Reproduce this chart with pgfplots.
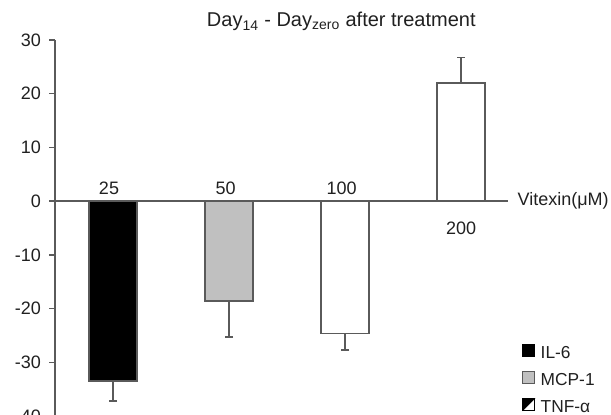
\documentclass[border=0pt]{standalone}
\usepackage{pgfplots}
\pgfplotsset{compat=1.18}
\usepackage{fontspec}
\setmainfont{Liberation Sans}
\definecolor{axgray}{HTML}{5A5A5A}
\definecolor{bargray}{HTML}{C0C0C0}
\definecolor{txt}{HTML}{202020}
\begin{document}
\begin{tikzpicture}
\begin{axis}[
  scale only axis, width=339.75pt, height=282pt,
  xmin=0.5, xmax=4.405, ymin=-40, ymax=30,
  axis y line=left, axis x line=middle,
  axis line style={-, draw=axgray, line width=1.1pt},
  every inner x axis line/.append style={-},
  every outer y axis line/.append style={-},
  hide obscured x ticks=false, hide obscured y ticks=false,
  xtick=\empty, ytick={-40,-30,...,30},
  tick align=outside, major tick length=4.5pt,
  tick style={draw=axgray, line width=1pt},
  yticklabel style={font=\fontsize{13.5}{16}\selectfont, text=txt, xshift=-2.5pt},
  /pgf/number format/assume math mode=true,
  clip=false,
  legend style={at={(1.031,0.192)}, anchor=north west, draw=none, fill=none,
    font=\fontsize{13}{15}\selectfont, text=txt, row sep=6.6pt, column sep=4pt,
    inner sep=0pt, nodes={inner sep=0pt, text height=9.5pt, text depth=3pt}},
  legend cell align=left,
]
\addplot[ybar, bar width=36pt, bar shift=0pt, fill=black, draw=axgray, line width=1pt, forget plot,
  error bars/.cd, y dir=minus, y explicit,
  error bar style={draw=axgray, line width=1pt},
  error mark options={rotate=90, mark size=3pt, draw=axgray, line width=1pt}]
  coordinates {(1,-33.5) +- (0,3.7)};
\addplot[ybar, bar width=36pt, bar shift=0pt, fill=bargray, draw=axgray, line width=1pt, forget plot,
  error bars/.cd, y dir=minus, y explicit,
  error bar style={draw=axgray, line width=1pt},
  error mark options={rotate=90, mark size=3pt, draw=axgray, line width=1pt}]
  coordinates {(2,-18.6) +- (0,6.7)};
\addplot[ybar, bar width=36pt, bar shift=0pt, fill=white, draw=axgray, line width=1pt, forget plot,
  error bars/.cd, y dir=minus, y explicit,
  error bar style={draw=axgray, line width=1pt},
  error mark options={rotate=90, mark size=3pt, draw=axgray, line width=1pt}]
  coordinates {(3,-24.7) +- (0,3.0)};
\addplot[ybar, bar width=36pt, bar shift=0pt, fill=white, draw=axgray, line width=1pt, forget plot,
  error bars/.cd, y dir=plus, y explicit,
  error bar style={draw=axgray, line width=1pt},
  error mark options={rotate=90, mark size=3pt, draw=axgray, line width=1pt}]
  coordinates {(4,22.0) +- (0,4.8)};
\addlegendimage{legend image code/.code={\draw[black, fill=black, line width=0.6pt] (0pt,-2pt) rectangle (9pt,7pt);}}
\addlegendentry{IL-6}
\addlegendimage{legend image code/.code={\draw[axgray, fill=bargray, line width=0.8pt] (0pt,-2pt) rectangle (9pt,7pt);}}
\addlegendentry{MCP-1}
\addlegendimage{legend image code/.code={\draw[black, fill=white, line width=0.8pt] (0pt,-2pt) rectangle (9pt,7pt); \fill[black] (0pt,-2pt) -- (0pt,7pt) -- (9pt,7pt) -- cycle;}}
\addlegendentry{TNF-α}
\node[anchor=base, font=\fontsize{13.5}{16}\selectfont, text=txt, yshift=5.25pt, xshift=-3pt] at (axis cs:1,0) {25};
\node[anchor=base, font=\fontsize{13.5}{16}\selectfont, text=txt, yshift=5.25pt, xshift=-2.5pt] at (axis cs:2,0) {50};
\node[anchor=base, font=\fontsize{13.5}{16}\selectfont, text=txt, yshift=5.25pt, xshift=-2.5pt] at (axis cs:3,0) {100};
\node[anchor=base, font=\fontsize{13.5}{16}\selectfont, text=txt, yshift=-25pt] at (axis cs:4,0) {200};
\node[anchor=west, inner sep=0pt, font=\fontsize{13.5}{16}\selectfont, text=txt, xshift=7pt] at (axis cs:4.405,0) {Vitexin(μM)};
\node[anchor=base, font=\fontsize{15}{18}\selectfont, text=txt, yshift=9.75pt] at (rel axis cs:0.632,1) {Day\textsubscript{14} - Day\textsubscript{zero} after treatment};
\coordinate (bl) at (rel axis cs:0,0);
\coordinate (tr) at (rel axis cs:1,1);
\end{axis}
\pgfresetboundingbox
\path[use as bounding box] ([shift={(-41.25pt,0.75pt)}]bl) rectangle ([shift={(77.25pt,30pt)}]tr);
\end{tikzpicture}
\end{document}
